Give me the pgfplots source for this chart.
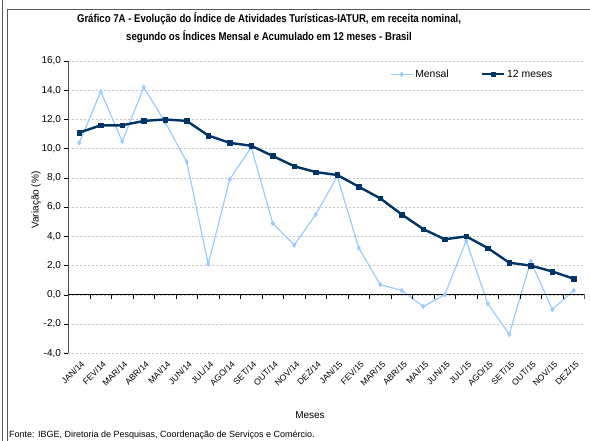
\documentclass[border=0pt]{standalone}
\usepackage{fontspec}
\setmainfont{Liberation Sans}
\newfontfamily\narrowfont{Liberation Sans}[FakeStretch=0.85]
\usepackage{pgfplots}
\pgfplotsset{compat=1.18}
\definecolor{lightser}{HTML}{99CCFF}
\definecolor{darkser}{HTML}{003366}
\begin{document}
\begin{tikzpicture}[x=1pt,y=1pt]
\path[use as bounding box] (0,0) rectangle (590,441);
\draw[gray!70!black, line width=0.8pt] (2,0) -- (2,441);
\draw[gray!70!black, line width=0.8pt] (7,0) -- (7,432) -- (590,432);
\node[font=\narrowfont\bfseries\fontsize{11.3}{18}\selectfont, align=center] at (269,413) {Gráfico 7A - Evolução do Índice de Atividades Turísticas-IATUR, em receita nominal,\\ segundo os Índices Mensal e Acumulado em 12 meses - Brasil};
\node[rotate=90, font=\fontsize{10}{12}\selectfont] at (36,241) {Variação (\%)};
\node[font=\fontsize{10}{12}\selectfont] at (310,26) {Meses};
\node[anchor=west, font=\fontsize{9}{11}\selectfont, inner sep=0pt] at (9,6) {Fonte: IBGE, Diretoria de Pesquisas, Coordenação de Serviços e Comércio.};
\begin{axis}[
  at={(68.5pt,87.7pt)}, anchor=south west, scale only axis,
  width=516pt, height=292.3pt,
  xmin=-0.5, xmax=23.5, ymin=-4, ymax=16,
  ytick={-4,-2,...,16},
  xtick={0,...,23},
  xticklabels={JAN/14,FEV/14,MAR/14,ABR/14,MAI/14,JUN/14,JUL/14,AGO/14,SET/14,OUT/14,NOV/14,DEZ/14,JAN/15,FEV/15,MAR/15,ABR/15,MAI/15,JUN/15,JUL/15,AGO/15,SET/15,OUT/15,NOV/15,DEZ/15},
  axis lines*=left,
  axis line style={-},
  x axis line style={draw=none},
  y axis line style={draw=gray!60!black, line width=0.8pt},
  xtick style={draw=none},
  ytick style={draw=black, line width=0.6pt},
  tick align=outside,
  major tick length=4pt,
  ymajorgrids,
  major grid style={gray!45, dash pattern=on 2pt off 2pt, line width=0.6pt},
  yticklabel style={font=\fontsize{10}{12}\selectfont},
  xticklabel style={rotate=45, anchor=north east, font=\fontsize{8.6}{10}\selectfont, inner sep=1pt, yshift=-2pt},
  /pgf/number format/.cd, fixed, fixed zerofill, precision=1, use comma, assume math mode=true,
  /pgfplots/.cd,
  legend columns=2,
  legend style={draw=none, fill=none, at={(0.617,0.9545)}, anchor=west, font=\fontsize{10.4}{12}\selectfont,
    /tikz/every even column/.append style={column sep=30pt}},
  legend image code/.code={\draw[mark repeat=2,mark phase=2,#1] plot coordinates {(0pt,0pt) (11pt,0pt) (22pt,0pt)};},
]
\addplot[color=lightser, line width=1.2pt, line join=round, mark=diamond*, mark size=2.4pt, mark options={fill=lightser, draw=lightser, line width=0.4pt}] coordinates {
(0,10.4) (1,13.9) (2,10.5) (3,14.2) (4,11.8) (5,9.1) (6,2.1) (7,7.9) (8,10.1) (9,4.9) (10,3.4) (11,5.5)
(12,8.1) (13,3.2) (14,0.7) (15,0.3) (16,-0.8) (17,0.0) (18,3.7) (19,-0.6) (20,-2.7) (21,2.3) (22,-1.0) (23,0.3)};
\addlegendentry{Mensal}
\addplot[color=darkser, line width=2.4pt, line join=round, mark=square*, mark size=2.3pt, mark options={fill=darkser, draw=darkser, line width=0.4pt}] coordinates {
(0,11.1) (1,11.6) (2,11.6) (3,11.9) (4,12.0) (5,11.9) (6,10.9) (7,10.4) (8,10.2) (9,9.5) (10,8.8) (11,8.4)
(12,8.2) (13,7.4) (14,6.6) (15,5.5) (16,4.5) (17,3.8) (18,4.0) (19,3.2) (20,2.2) (21,2.0) (22,1.6) (23,1.1)};
\addlegendentry{12 meses}
\draw[black, line width=0.8pt] (axis cs:-0.5,0) -- (axis cs:23.5,0);
\pgfplotsinvokeforeach{0.5,1.5,...,23.5}{\draw[black, line width=0.6pt] (axis cs:#1,0) -- ([yshift=-4pt]axis cs:#1,0);}
\end{axis}
\end{tikzpicture}
\end{document}
